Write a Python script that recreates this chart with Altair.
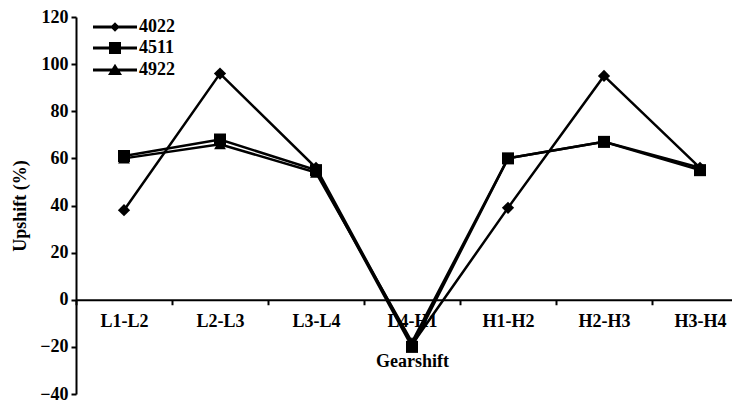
import altair as alt
import pandas as pd

categories = ["L1-L2", "L2-L3", "L3-L4", "L4-H1", "H1-H2", "H2-H3", "H3-H4"]
series = ["4022", "4511", "4922"]
v4022 = [38, 96, 56, -19, 39, 95, 56]
v4511 = [61, 68, 55, -20, 60, 67, 55]
v4922 = [60, 66, 54, -18, 60, 67, 56]
y_ticks = [-40, -20, 0, 20, 40, 60, 80, 100, 120]

point_shapes = ["diamond", "square", "triangle-up"]
point_sizes = [150, 140, 120]
BAR = "M-4.4,-0.28L4.4,-0.28L4.4,0.28L-4.4,0.28Z"
legend_shapes = [
    "M0,-0.95L0.95,0L0,0.95L-0.95,0Z" + BAR,
    "M-1.2,-1.2L1.2,-1.2L1.2,1.2L-1.2,1.2Z" + BAR,
    "M0,-1.25L1.4,1.0L-1.4,1.0Z" + BAR,
]

rows = []
for s, vals in zip(series, [v4022, v4511, v4922]):
    for i, (c, v) in enumerate(zip(categories, vals)):
        rows.append({"gear": c, "gear_idx": i, "series": s, "value": v})
df = pd.DataFrame(rows)
draw_order = {"4922": 0, "4022": 1, "4511": 2}
df_pts = df.assign(o=df["series"].map(draw_order)).sort_values("o")

FONT = "Liberation Serif"
FS = 18
BAND = 96
H = 377
x_enc = alt.X(
    "gear:N",
    sort=categories,
    scale=alt.Scale(type="band", paddingInner=0, paddingOuter=0, range=[0, BAND * len(categories)]),
    axis=alt.Axis(
        title="Gearshift", labelAngle=0, offset=-H * 40 / 160, tickBand="extent",
        tickSize=5, tickWidth=2, tickColor="black", domainColor="black", domainWidth=2,
        labelFont=FONT, labelFontWeight="bold", labelFontSize=FS, labelColor="black",
        labelPadding=8, titleFont=FONT, titleFontWeight="bold", titleFontSize=FS,
        titleColor="black", titleX=BAND * len(categories) / 2, titlePadding=22,
    ),
)
y_enc = alt.Y(
    "value:Q",
    scale=alt.Scale(domain=[-40, 120], nice=False, zero=False),
    axis=alt.Axis(
        title="Upshift (%)", values=y_ticks, grid=False,
        tickSize=5, tickWidth=2, tickColor="black", domainColor="black", domainWidth=2,
        labelFont=FONT, labelFontWeight="bold", labelFontSize=FS, labelColor="black",
        labelPadding=3, titleFont=FONT, titleFontWeight="bold", titleFontSize=FS,
        titleColor="black", titlePadding=10,
    ),
)

lines = alt.Chart(df).mark_line(color="black", strokeWidth=2.5).encode(
    x=x_enc, y=y_enc, detail="series:N", order=alt.Order("gear_idx:Q")
)

points = alt.Chart(df_pts).mark_point(filled=True, color="black", opacity=1).encode(
    x=x_enc, y=y_enc,
    shape=alt.Shape("series:N", scale=alt.Scale(domain=series, range=point_shapes), legend=None),
    size=alt.Size("series:N", scale=alt.Scale(domain=series, range=point_sizes), legend=None),
)

legend_layer = alt.Chart(df).mark_point(filled=True, color="black", opacity=0).encode(
    x=x_enc, y=y_enc,
    shape=alt.Shape(
        "series:N",
        scale=alt.Scale(domain=series, range=legend_shapes),
        legend=alt.Legend(
            title=None, orient="none", legendX=30, legendY=1, symbolSize=100,
            symbolFillColor="black", symbolOpacity=1, labelOffset=15, rowPadding=3, padding=0,
            labelFont=FONT, labelFontWeight="bold", labelFontSize=FS, labelColor="black",
        ),
    ),
)

chart = alt.layer(lines, points, legend_layer).resolve_scale(
    shape="independent", size="independent"
).properties(
    width=656, height=H,
    autosize=alt.AutoSizeParams(type="none"),
    padding={"left": 68, "top": 9, "right": 0, "bottom": 8},
).configure_view(stroke=None)

chart.save("out.html", embed_options={"renderer": "svg", "actions": False})
